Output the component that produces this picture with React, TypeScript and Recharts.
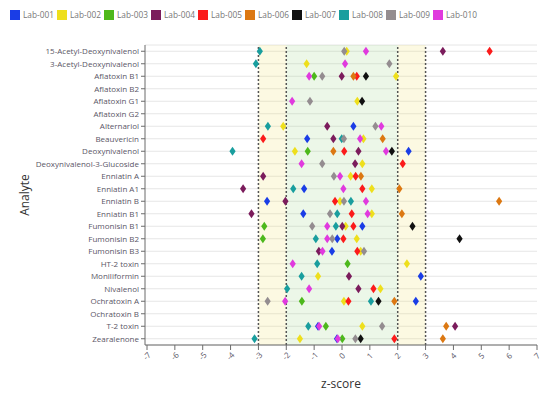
import {
  ScatterChart,
  Scatter,
  XAxis,
  YAxis,
  CartesianGrid,
  ReferenceArea,
  ReferenceLine,
} from "recharts";

document.body.style.margin = "0";

const ANALYTES = [
  "15-Acetyl-Deoxynivalenol",
  "3-Acetyl-Deoxynivalenol",
  "Aflatoxin B1",
  "Aflatoxin B2",
  "Aflatoxin G1",
  "Aflatoxin G2",
  "Alternariol",
  "Beauvericin",
  "Deoxynivalenol",
  "Deoxynivalenol-3-Glucoside",
  "Enniatin A",
  "Enniatin A1",
  "Enniatin B",
  "Enniatin B1",
  "Fumonisin B1",
  "Fumonisin B2",
  "Fumonisin B3",
  "HT-2 toxin",
  "Moniliformin",
  "Nivalenol",
  "Ochratoxin A",
  "Ochratoxin B",
  "T-2 toxin",
  "Zearalenone",
];

const X_TICKS = [-7, -6, -5, -4, -3, -2, -1, 0, 1, 2, 3, 4, 5, 6, 7];

// z-scores per lab, aligned with ANALYTES (null = no result)
const LAB_001 = [null, null, null, null, null, null, 0.41, -1.25, 2.39, null, null, -1.36, -2.69, -1.39, 0.73, -0.17, -0.36, null, 2.83, null, 2.65, null, -0.86, -0.18];
const LAB_002 = [0.17, -1.27, 1.94, null, 0.55, null, -2.11, 0.77, -1.69, 0.73, 0.31, 1.07, -0.07, 1.07, 0.13, 0.53, 0.67, 2.33, -0.86, 1.38, 0.07, null, 0.73, -1.51];
const LAB_003 = [null, null, -1.0, null, null, null, null, null, -1.23, null, null, null, null, null, -2.79, -2.84, null, 0.2, null, null, -1.44, null, -0.58, 0.01];
const LAB_004 = [3.62, null, -0.01, null, null, null, -0.53, -0.31, 0.59, 0.47, -2.83, -3.55, -2.03, -3.25, 0.01, null, -0.83, null, 0.25, 0.59, null, null, 4.06, null];
const LAB_005 = [5.3, null, 0.53, null, null, null, null, -2.83, 0.08, 2.18, 0.49, 0.73, -0.25, 0.35, 0.41, 0.05, 0.55, null, null, 1.13, 0.23, null, null, 1.88];
const LAB_006 = [null, null, 0.41, null, null, null, null, 1.46, -0.31, null, 0.68, 2.06, 5.64, 2.15, null, null, null, null, null, null, 1.88, null, 3.74, 3.62];
const LAB_007 = [null, null, 0.86, null, 0.72, null, null, null, 1.79, null, null, null, null, null, 2.53, 4.22, null, null, null, null, 1.31, null, null, 0.67];
const LAB_008 = [-2.95, -3.09, null, null, null, null, -2.66, -0.01, -3.93, null, null, -1.75, 0.32, -0.17, -0.22, -0.94, null, -0.89, -1.45, -1.97, 1.04, null, -1.21, -3.14];
const LAB_009 = [0.08, 1.7, -0.71, null, -1.15, null, 1.2, 0.07, null, -0.71, -0.29, null, 0.07, -0.43, -1.07, -0.35, 0.79, null, null, null, -2.67, null, 1.44, 0.48];
const LAB_010 = [0.86, 0.11, -1.18, null, -1.79, null, 1.41, 0.65, 1.58, -1.45, -0.07, 0.05, 0.86, 0.92, -0.53, -0.53, -0.7, -1.77, null, -1.18, -2.04, null, -0.82, -0.15];

const LABS = [
  { name: "Lab-001", color: "#1a3de6", values: LAB_001 },
  { name: "Lab-002", color: "#eedf1c", values: LAB_002 },
  { name: "Lab-003", color: "#4db81c", values: LAB_003 },
  { name: "Lab-004", color: "#7b1c5c", values: LAB_004 },
  { name: "Lab-005", color: "#fb1b1b", values: LAB_005 },
  { name: "Lab-006", color: "#dc7812", values: LAB_006 },
  { name: "Lab-007", color: "#111111", values: LAB_007 },
  { name: "Lab-008", color: "#199e9e", values: LAB_008 },
  { name: "Lab-009", color: "#948d90", values: LAB_009 },
  { name: "Lab-010", color: "#e03ade", values: LAB_010 },
];

const FONT = "'Open Sans', 'Noto Sans', sans-serif";
const AXIS_COLOR = "#6b6b6b";
const TEXT_COLOR = "#5a5666";

function toPoints(values: (number | null)[]) {
  return values
    .map((z, i) => (z == null ? null : { z, row: i }))
    .filter((p) => p != null);
}

function Diamond(props: { cx?: number; cy?: number; fill?: string }) {
  const { cx, cy, fill } = props;
  if (cx == null || cy == null) return null;
  return (
    <polygon
      points={`${cx},${cy - 4.6} ${cx + 3.1},${cy} ${cx},${cy + 4.6} ${cx - 3.1},${cy}`}
      fill={fill}
    />
  );
}

function XTick(props: { x?: number; y?: number; payload?: { value: number } }) {
  const { x = 0, y = 0, payload } = props;
  return (
    <g transform={`translate(${x},${y + 4})`}>
      <text
        transform="rotate(-45)"
        textAnchor="middle"
        dy="0.35em"
        fontSize={8}
        fontFamily={FONT}
        fill={TEXT_COLOR}
      >
        {payload?.value}
      </text>
    </g>
  );
}

function YLabel(props: { viewBox?: { x: number; y: number; width: number; height: number } }) {
  const vb = props.viewBox;
  if (!vb) return null;
  const cx = vb.x + 24;
  const cy = vb.y + vb.height / 2;
  return (
    <text
      x={cx}
      y={cy}
      transform={`rotate(-90, ${cx}, ${cy})`}
      textAnchor="middle"
      dominantBaseline="central"
      fontSize={12}
      fontFamily={FONT}
      fill="#333"
    >
      Analyte
    </text>
  );
}

function Legend() {
  return (
    <div
      style={{
        position: "absolute",
        left: 10,
        top: 9,
        display: "flex",
        fontFamily: FONT,
        fontSize: 8.3,
        color: "#777",
      }}
    >
      {LABS.map((lab) => (
        <div key={lab.name} style={{ width: 47, display: "flex", alignItems: "center" }}>
          <span
            style={{
              display: "inline-block",
              width: 10,
              height: 10,
              background: lab.color,
              marginRight: 3,
            }}
          />
          <span>{lab.name}</span>
        </div>
      ))}
    </div>
  );
}

export default function App() {
  return (
    <div style={{ position: "relative", width: 550, height: 399, background: "#fff" }}>
      <Legend />
      <ScatterChart
        width={550}
        height={399}
        margin={{ top: 45, right: 13, left: 0, bottom: 6 }}
      >
        <ReferenceArea x1={-3} x2={-2} fill="#efe06e" fillOpacity={0.2} stroke="none" />
        <ReferenceArea x1={-2} x2={2} fill="#9fd98a" fillOpacity={0.2} stroke="none" />
        <ReferenceArea x1={2} x2={3} fill="#efe06e" fillOpacity={0.2} stroke="none" />
        <CartesianGrid vertical={false} stroke="#e6e6e6" />
        {[-3, -2, 2, 3].map((v) => (
          <ReferenceLine key={v} x={v} stroke="#555" strokeWidth={1.5} strokeDasharray="2 2" />
        ))}
        <XAxis
          type="number"
          dataKey="z"
          domain={[-7, 7]}
          ticks={X_TICKS}
          interval={0}
          padding={{ left: 2 }}
          height={48}
          stroke={AXIS_COLOR}
          tickSize={5}
          tick={<XTick />}
          label={{
            value: "z-score",
            position: "insideBottom",
            offset: 5,
            fontSize: 12,
            fontFamily: FONT,
            fill: "#333",
          }}
        />
        <YAxis
          type="number"
          dataKey="row"
          domain={[-0.5, ANALYTES.length - 0.5]}
          ticks={ANALYTES.map((_, i) => i)}
          interval={0}
          reversed
          width={145}
          stroke={AXIS_COLOR}
          tickSize={4}
          tickFormatter={(v: number) => ANALYTES[v] ?? ""}
          tick={{ fontSize: 8, fontFamily: FONT, fill: TEXT_COLOR }}
          label={<YLabel />}
        />
        {LABS.map((lab) => (
          <Scatter
            key={lab.name}
            name={lab.name}
            data={toPoints(lab.values)}
            fill={lab.color}
            shape={Diamond as unknown as undefined}
            isAnimationActive={false}
          />
        ))}
      </ScatterChart>
    </div>
  );
}
